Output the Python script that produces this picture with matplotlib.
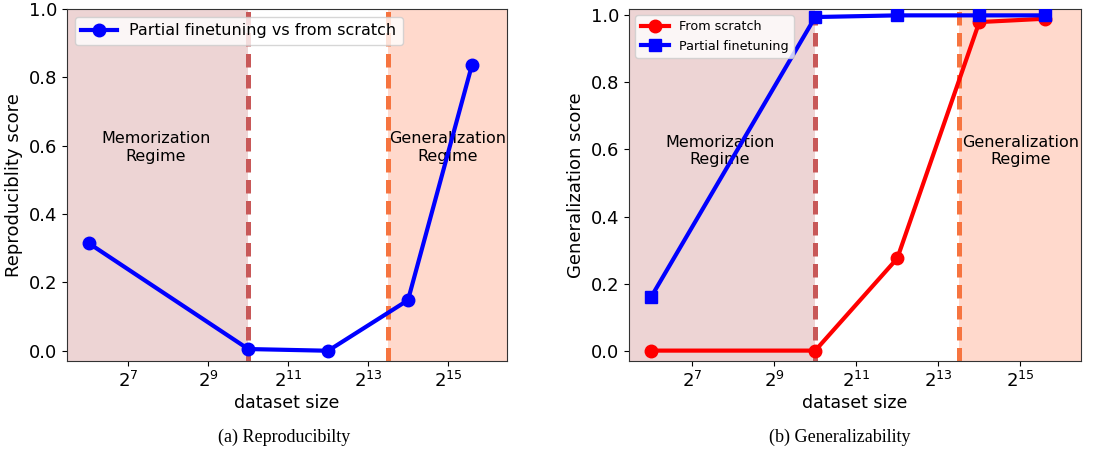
import matplotlib
matplotlib.use("Agg")
import matplotlib.pyplot as plt
import numpy as np

# dataset sizes (log2) and scores
sizes = 2.0 ** np.array([6, 10, 12, 14, 15.6])
repro = [0.315, 0.005, 0.0, 0.148, 0.835]
scratch = [0.0, 0.0, 0.275, 0.98, 0.99]
finetune = [0.16, 0.995, 1.0, 1.0, 1.0]

mem_edge = 2.0 ** 10
gen_edge = 2.0 ** 13.5
xlo, xhi = 2.0 ** 5.46, 2.0 ** 16.48
xticks = [2 ** 7, 2 ** 9, 2 ** 11, 2 ** 13, 2 ** 15]

fig = plt.figure(figsize=(11.06, 4.59), dpi=100)
ax0 = fig.add_axes([67 / 1106, 98 / 459, 440 / 1106, 352 / 459])
ax1 = fig.add_axes([629 / 1106, 98 / 459, 452 / 1106, 352 / 459])


def regimes(ax, ytxt):
    ax.axvspan(xlo, mem_edge, color='brown', alpha=0.2, lw=0, zorder=0)
    ax.axvspan(gen_edge, xhi, color='orangered', alpha=0.2, lw=0, zorder=0)
    ax.axvline(mem_edge, color='#c85858', ls=(0, (2.7, 1.5)), lw=3.6, zorder=1)
    ax.axvline(gen_edge, color='#f6743f', ls=(0, (2.7, 1.5)), lw=3.6, zorder=1)
    ax.text(2 ** 7.68, ytxt, 'Memorization\nRegime', ha='center', va='center', fontsize=11.5, zorder=2)
    ax.text(2 ** 15.0, ytxt, 'Generalization\nRegime', ha='center', va='center', fontsize=11.5, zorder=2)
    ax.set_xscale('log', base=2)
    ax.set_xlim(xlo, xhi)
    ax.set_xticks(xticks)
    ax.minorticks_off()
    ax.set_xlabel('dataset size', fontsize=12.5, labelpad=2)
    ax.tick_params(labelsize=13)
    for s in ax.spines.values():
        s.set_color('#333333')


regimes(ax0, 0.595)
ax0.plot(sizes, repro, 'o-', color='blue', lw=3, ms=9, label='Partial finetuning vs from scratch', zorder=3)
ax0.set_ylim(-0.03, 1.0)
ax0.set_yticks([0.0, 0.2, 0.4, 0.6, 0.8, 1.0])
ax0.set_ylabel('Reproduciblity score', fontsize=13)
ax0.legend(loc='upper left', fontsize=11.5, handlelength=2.2)

regimes(ax1, 0.595)
ax1.plot(sizes, scratch, 'o-', color='red', lw=3, ms=9, label='From scratch', zorder=3)
ax1.plot(sizes, finetune, 's-', color='blue', lw=3, ms=9, label='Partial finetuning', zorder=3)
ax1.set_ylim(-0.031, 1.019)
ax1.set_yticks([0.0, 0.2, 0.4, 0.6, 0.8, 1.0])
ax1.set_ylabel('Generalization score', fontsize=13)
ax1.legend(loc='upper left', fontsize=9.2, handlelength=2.2)

fig.text(284 / 1106, 1 - 437 / 459, '(a) Reproducibilty', ha='center', va='center', fontsize=13, family='Liberation Serif')
fig.text(840 / 1106, 1 - 437 / 459, '(b) Generalizability', ha='center', va='center', fontsize=13, family='Liberation Serif')

fig.savefig('out.png', dpi=100)
